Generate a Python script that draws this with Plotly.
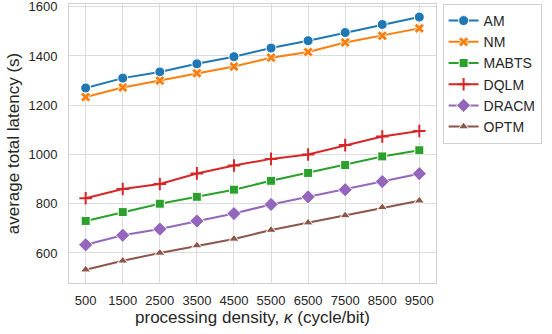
import plotly.graph_objects as go

density = [500, 1500, 2500, 3500, 4500, 5500, 6500, 7500, 8500, 9500]

am = [1270, 1310, 1335, 1368, 1397, 1432, 1462, 1495, 1528, 1558]
nm = [1233, 1272, 1300, 1330, 1357, 1393, 1416, 1455, 1482, 1512]
mabts = [730, 766, 800, 828, 857, 893, 925, 957, 992, 1017]
dqlm = [822, 860, 880, 923, 955, 982, 1000, 1038, 1073, 1095]
dracm = [633, 672, 697, 730, 760, 797, 828, 857, 890, 922]
optm = [532, 568, 600, 630, 657, 693, 723, 752, 785, 812]

series = [
    ("AM", am, "#1f77b4", "circle", 10),
    ("NM", nm, "#ff7f0e", "x", 9),
    ("MABTS", mabts, "#2ca02c", "square", 9),
    ("DQLM", dqlm, "#d62728", "cross-thin", 9),
    ("DRACM", dracm, "#9467bd", "diamond", 11),
    ("OPTM", optm, "#8c564b", "triangle-up", 9),
]

fig = go.Figure()
for name, vals, color, symbol, size in series:
    if symbol == "cross-thin":
        marker = dict(symbol=symbol, size=size, color=color,
                      line=dict(color=color, width=2))
    else:
        marker = dict(symbol=symbol, size=size, color=color,
                      line=dict(color="white", width=1))
    fig.add_trace(go.Scatter(
        x=density, y=vals, name=name, mode="lines+markers",
        line=dict(color=color, width=2), marker=marker
    ))

# invisible outside ticks just to pad the labels away from the frame
axis_common = dict(
    showgrid=True, gridcolor="#dcdcdc", gridwidth=1,
    showline=True, linecolor="#d0d0d0", linewidth=1, mirror=True,
    zeroline=False, ticks="outside", tickcolor="rgba(0,0,0,0)",
    automargin=False, ticklabeloverflow="allow",
    tickfont=dict(size=13, color="#262626"),
)

fig.update_layout(
    width=552, height=334,
    margin=dict(l=69, r=116, t=4, b=51),
    plot_bgcolor="white", paper_bgcolor="white",
    font=dict(family="Liberation Sans, Arial, sans-serif", color="#262626"),
    xaxis=dict(
        range=[50, 9950], tickvals=density, ticklen=5,
        title=dict(text="processing density, <i>κ</i> (cycle/bit)",
                   font=dict(size=17), standoff=0),
        **axis_common
    ),
    yaxis=dict(
        range=[478, 1611], tickvals=[600, 800, 1000, 1200, 1400, 1600],
        ticklen=8,
        title=dict(text="average total latency (s)", font=dict(size=17), standoff=4),
        **axis_common
    ),
    legend=dict(
        x=1.018, y=1.0, xanchor="left", yanchor="top",
        bordercolor="#d0d0d0", borderwidth=1, itemwidth=30,
        font=dict(size=14, color="#262626"), tracegroupgap=0,
    ),
)

# page body has a default 8px margin, drop it so the figure sits at 0,0
fig.write_html("out.html", config={"displayModeBar": False},
               post_script="document.body.style.margin='0';")
